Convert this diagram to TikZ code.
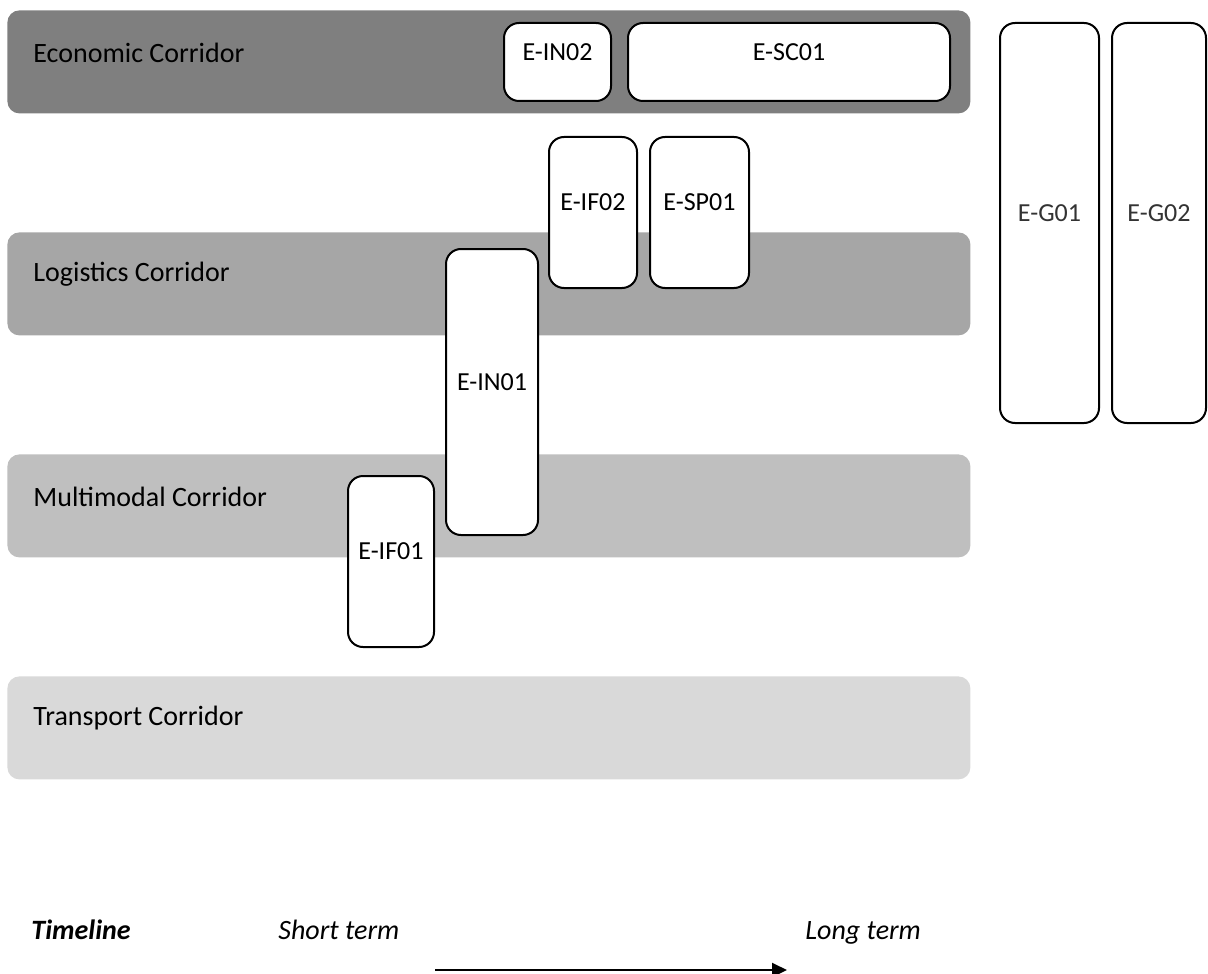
\documentclass[tikz,border=0pt]{standalone}
\usepackage{fontspec}
\setmainfont{Carlito}
\usetikzlibrary{arrows.meta}

\definecolor{econgray}{HTML}{7F7F7F}
\definecolor{logigray}{HTML}{A6A6A6}
\definecolor{multigray}{HTML}{BFBFBF}
\definecolor{transgray}{HTML}{D9D9D9}

\tikzset{
  band/.style={rounded corners=6pt, minimum width=481.5pt, minimum height=51.5pt,
    anchor=north west, inner sep=0pt},
  bandtext/.style={anchor=west, inner sep=0pt, xshift=13pt, yshift=4.75pt,
    font=\fontsize{14}{17}\selectfont},
  ebox/.style={draw, line width=1pt, fill=white, rounded corners=7.5pt, inner sep=0pt},
  boxtext/.style={yshift=5pt, font=\fontsize{13}{15}\selectfont},
  timetext/.style={anchor=base west, inner sep=0pt, font=\fontsize{14}{17}\selectfont}
}

\begin{document}
\begin{tikzpicture}
[
  x=0.5pt, y=-0.5pt
]
\useasboundingbox (0,0) rectangle (1208,973);

\node[band, fill=econgray, label={[bandtext]west:Economic Corridor}] (econ) at (7,10) {};
\node[band, fill=logigray, label={[bandtext]west:Logistics Corridor}] (logi) at (7,232) {};
\node[band, fill=multigray, label={[bandtext]west:Multimodal Corridor}] (multi) at (7,454) {};
\node[band, fill=transgray, label={[bandtext]west:Transport Corridor}] (trans) at (7,676) {};

\node[ebox, minimum width=53.5pt, minimum height=39pt,
  label={[boxtext]center:E-IN02}] (ein02) at (557.5,62) {};
\node[ebox, minimum width=161pt, minimum height=39pt,
  label={[boxtext]center:E-SC01}] (esc01) at (789,62) {};
\node[ebox, minimum width=44pt, minimum height=75.5pt,
  label={[boxtext]center:E-IF02}] (eif02) at (593,212.5) {};
\node[ebox, minimum width=49.5pt, minimum height=75.5pt,
  label={[boxtext]center:E-SP01}] (esp01) at (699.5,212.5) {};
\node[ebox, minimum width=46pt, minimum height=143pt,
  label={[boxtext]center:E-IN01}] (ein01) at (492,392) {};
\node[ebox, minimum width=43pt, minimum height=85.5pt,
  label={[boxtext]center:E-IF01}] (eif01) at (391,561.5) {};
\node[ebox, minimum width=49.5pt, minimum height=200pt,
  label={[boxtext, text=black!80]center:E-G01}] (eg01) at (1049.5,223) {};
\node[ebox, minimum width=47pt, minimum height=200pt,
  label={[boxtext, text=black!80]center:E-G02}] (eg02) at (1159,223) {};

\node[timetext] (timeline) at (31,939) {\textbf{\textit{Timeline}}};
\node[timetext] (short) at (278,939) {\textit{Short term}};
\node[timetext] (long) at (805,939) {\textit{Long term}};

\coordinate (tstart) at (435,970);
\coordinate (tend) at (787,970);
\draw[line width=1pt, -{Triangle[length=7.5pt, width=7pt]}] (tstart) -- (tend);
\end{tikzpicture}
\end{document}
